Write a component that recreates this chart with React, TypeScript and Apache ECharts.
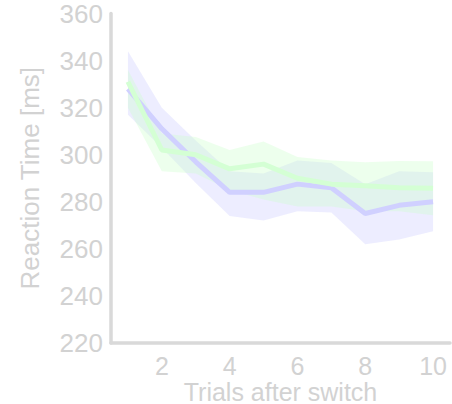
import React, { useEffect, useRef } from "react";
import * as echarts from "echarts";

// Trials after a switch
const trials = [1, 2, 3, 4, 5, 6, 7, 8, 9, 10];

// Condition A (lavender): mean and confidence band
const blueMean = [328, 311, 297, 284, 284, 287.5, 286, 275, 278.5, 280];
const blueUpper = [344, 320, 306, 293, 292, 297.5, 296.5, 287.5, 293, 292.5];
const blueLower = [317, 303, 288, 274, 272, 276, 275.5, 262, 264, 267.5];

// Condition B (mint): mean and confidence band
const greenMean = [331, 302, 300, 294, 296, 290, 287.5, 286.8, 286, 285.7];
const greenUpper = [336, 309, 307.5, 302, 305.6, 299, 297.5, 296.8, 297.3, 297.2];
const greenLower = [320, 293, 292, 285, 281, 278, 278, 276, 276, 274.3];

// Axis ticks
const xTicks = [2, 4, 6, 8, 10];
const yMin = 220;
const yMax = 360;
const yStep = 20;

const AXIS_GREY = "#d9d9d9";
const TEXT_GREY = "#d2d2d2";
const FONT = "'Liberation Sans', Arial, sans-serif";
const FONT_SIZE = 26;
const X_FONT_SIZE = 25;

function pairs(values: number[]) {
  return trials.map((t, i) => [t, values[i]]);
}

// One filled polygon spanning lower..upper across all trials
function bandSeries(lower: number[], upper: number[], color: string) {
  return {
    type: "custom",
    silent: true,
    data: trials.map((t, i) => [t, lower[i], upper[i]]),
    encode: { x: 0, y: [1, 2] },
    renderItem: (params: any, api: any) => {
      if (params.dataIndexInside !== 0) return null;
      const n = params.dataInsideLength;
      const top: number[][] = [];
      const bottom: number[][] = [];
      for (let i = 0; i < n; i++) {
        const x = api.value(0, i);
        top.push(api.coord([x, api.value(2, i)]));
        bottom.push(api.coord([x, api.value(1, i)]));
      }
      return {
        type: "polygon",
        shape: { points: top.concat(bottom.reverse()) },
        style: { fill: color },
      };
    },
  };
}

export default function App() {
  const ref = useRef<HTMLDivElement>(null);

  useEffect(() => {
    if (!ref.current) return;
    const chart = echarts.init(ref.current, null, { renderer: "svg" });
    chart.setOption({
      animation: false,
      grid: {
        left: 111,
        right: 2,
        top: 13.5,
        bottom: 61,
        containLabel: false,
        outerBoundsMode: "none",
      },
      xAxis: {
        type: "value",
        min: 0.5,
        max: 10.5,
        name: "Trials after switch",
        nameLocation: "middle",
        nameGap: 36,
        nameMoveOverlap: false,
        nameTextStyle: {
          color: TEXT_GREY,
          fontSize: X_FONT_SIZE,
          fontFamily: FONT,
          lineHeight: X_FONT_SIZE,
        },
        axisLine: { show: true, lineStyle: { color: AXIS_GREY, width: 3.5 } },
        axisTick: { show: false },
        splitLine: { show: false },
        axisLabel: {
          customValues: xTicks,
          color: TEXT_GREY,
          fontSize: X_FONT_SIZE,
          fontFamily: FONT,
          lineHeight: X_FONT_SIZE,
          margin: 10,
        },
      },
      yAxis: {
        type: "value",
        min: yMin,
        max: yMax,
        interval: yStep,
        name: "Reaction Time [ms]",
        nameLocation: "middle",
        nameGap: 68,
        nameMoveOverlap: false,
        nameTextStyle: { color: TEXT_GREY, fontSize: FONT_SIZE, fontFamily: FONT },
        axisLine: { show: true, lineStyle: { color: AXIS_GREY, width: 3.5 } },
        axisTick: { show: false },
        splitLine: { show: false },
        axisLabel: {
          color: TEXT_GREY,
          fontSize: FONT_SIZE,
          fontFamily: FONT,
          margin: 8,
        },
      },
      series: [
        bandSeries(blueLower, blueUpper, "rgba(204,204,255,0.35)"),
        bandSeries(greenLower, greenUpper, "rgba(204,255,204,0.35)"),
        {
          type: "line",
          data: pairs(blueMean),
          symbol: "none",
          lineStyle: { color: "#d0d0ff", width: 5 },
        },
        {
          type: "line",
          data: pairs(greenMean),
          symbol: "none",
          lineStyle: { color: "#d4ffd4", width: 5 },
        },
      ],
    });
    return () => chart.dispose();
  }, []);

  return <div ref={ref} style={{ width: 452, height: 404, position: "absolute", left: 0, top: 0 }} />;
}
